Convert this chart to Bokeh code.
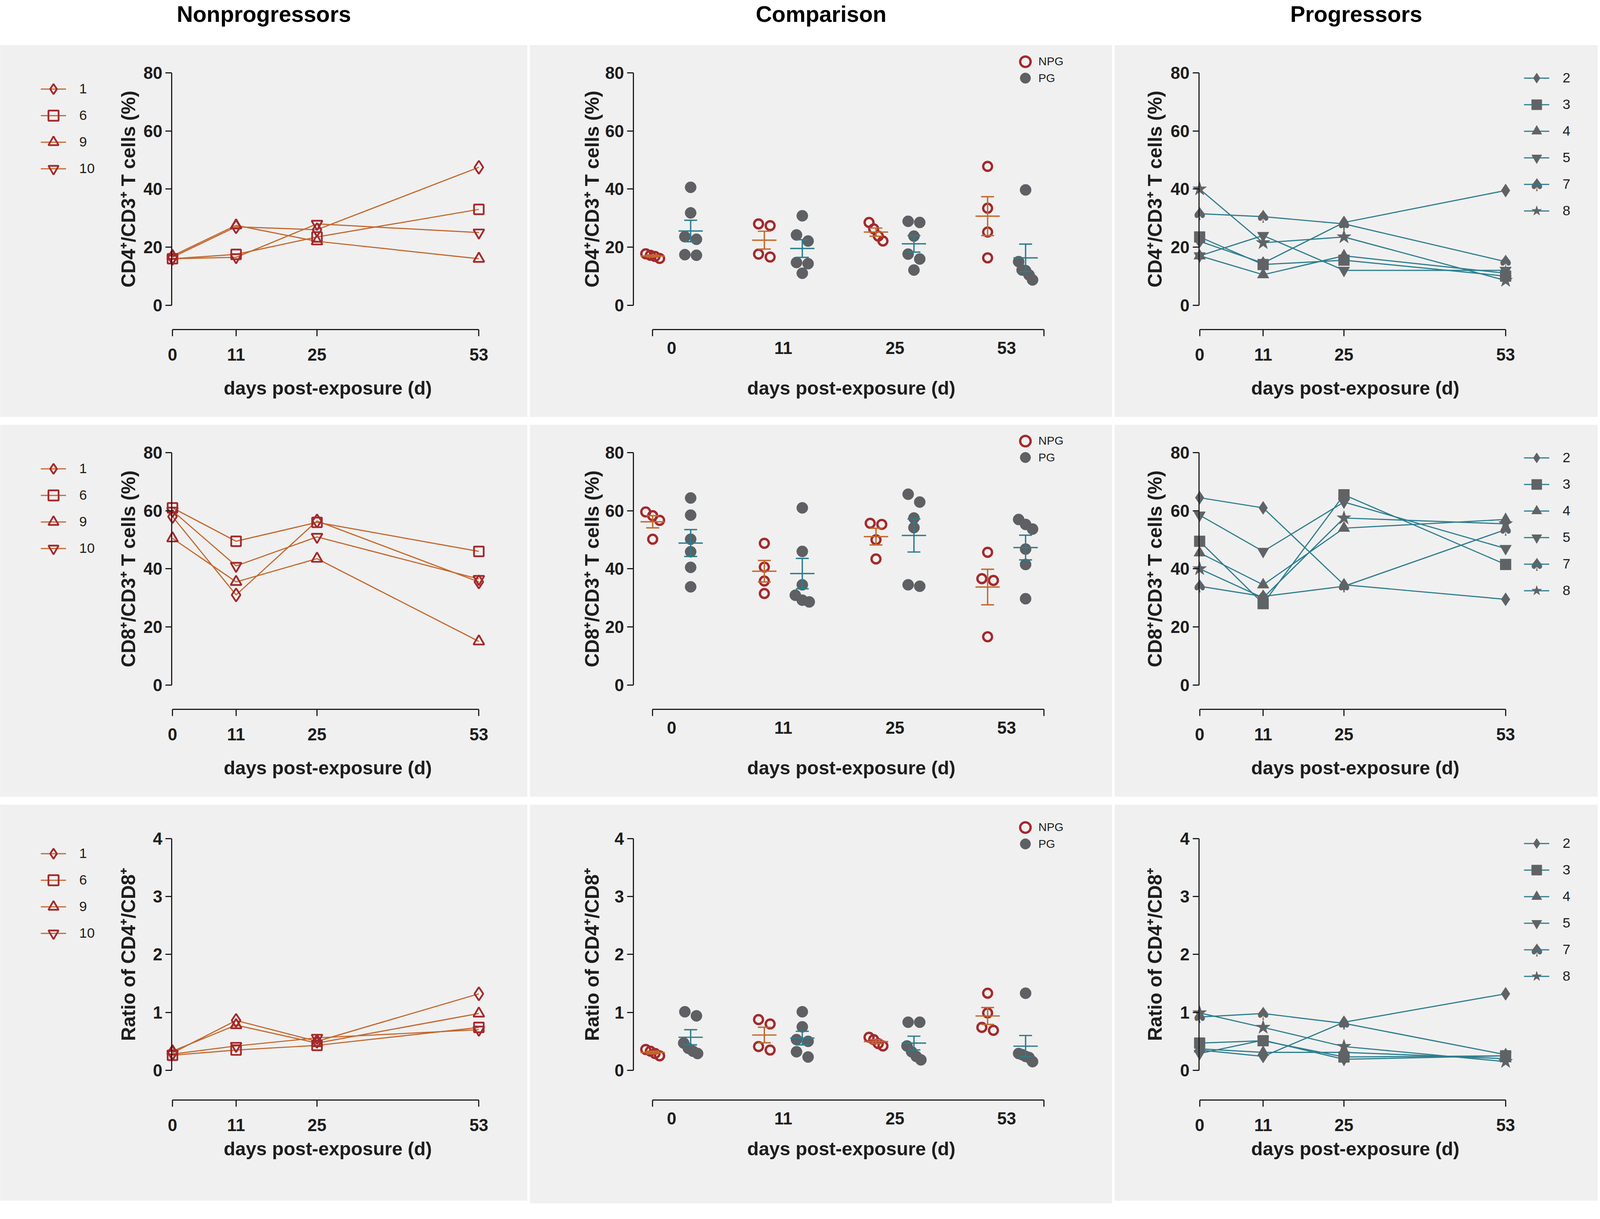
import math
import numpy as np
from bokeh.plotting import figure
from bokeh.layouts import row, column
from bokeh.models import Range1d, FixedTicker, Legend, LegendItem
from bokeh.core.properties import value
from bokeh.embed import file_html
from bokeh.resources import INLINE

# ---------------------------------------------------------------- data
DAYS = [0, 11, 25, 53]
DAY_LABELS = ["0", "11", "25", "53"]
COLUMN_TITLES = ["Nonprogressors", "Comparison", "Progressors"]
X_TITLE = "days post-exposure (d)"
Y_TITLES = ["CD4\u207a/CD3\u207a T cells (%)", "CD8\u207a/CD3\u207a T cells (%)", "Ratio of CD4\u207a/CD8\u207a"]
Y_MAX = [80, 80, 4]
Y_TICKS = [[0, 20, 40, 60, 80], [0, 20, 40, 60, 80], [0, 1, 2, 3, 4]]
GROUPS = ["NPG", "PG"]

NP_IDS = ["1", "6", "9", "10"]
P_IDS = ["2", "3", "4", "5", "7", "8"]

# Nonprogressors, value per animal at DAYS
NP_CD4 = {"1": [16.5, 27.0, 26.0, 47.5], "6": [16.0, 17.5, 23.5, 33.0],
          "9": [17.0, 27.5, 22.0, 16.0], "10": [16.0, 16.5, 28.0, 25.0]}
NP_CD8 = {"1": [58.0, 31.0, 56.5, 35.5], "6": [61.0, 49.5, 56.0, 46.0],
          "9": [50.5, 35.5, 43.5, 15.0], "10": [60.0, 41.0, 51.0, 36.5]}
NP_RATIO = {"1": [0.30, 0.86, 0.50, 1.32], "6": [0.26, 0.35, 0.43, 0.74],
            "9": [0.33, 0.78, 0.47, 0.98], "10": [0.28, 0.42, 0.56, 0.70]}

# Progressors, value per animal at DAYS
P_CD4 = {"2": [22.0, 14.5, 28.5, 39.5], "3": [23.5, 14.0, 15.5, 10.0], "4": [17.0, 10.5, 17.0, 11.0],
         "5": [17.0, 24.0, 12.0, 12.0], "7": [31.5, 30.5, 28.0, 15.0], "8": [40.0, 21.5, 23.5, 8.5]}
P_CD8 = {"2": [64.5, 61.0, 34.5, 29.5], "3": [49.5, 28.0, 65.5, 41.5], "4": [45.5, 34.5, 54.0, 57.0],
         "5": [58.5, 46.0, 63.0, 47.0], "7": [34.0, 30.5, 34.0, 53.5], "8": [40.0, 30.0, 57.5, 55.5]}
P_RATIO = {"2": [0.35, 0.24, 0.83, 1.32], "3": [0.47, 0.51, 0.23, 0.25], "4": [0.37, 0.31, 0.31, 0.20],
           "5": [0.29, 0.52, 0.19, 0.25], "7": [0.92, 0.98, 0.81, 0.27], "8": [0.99, 0.74, 0.41, 0.15]}

# Comparison panels: individual values per day (one inner list per day)
CMP_CD4_NPG = [[17.7, 16.1, 16.8, 17.2], [28.0, 27.4, 16.6, 17.6],
               [28.5, 26.3, 23.8, 22.1], [47.8, 33.4, 25.2, 16.3]]
CMP_CD4_PG = [[40.6, 31.8, 23.6, 22.7, 17.2, 17.4], [30.8, 24.2, 22.1, 14.7, 14.3, 11.0],
              [28.9, 28.5, 23.8, 17.6, 15.9, 12.1], [39.7, 15.0, 11.9, 12.1, 10.4, 8.7]]
CMP_CD8_NPG = [[59.6, 58.3, 56.7, 50.2], [48.8, 40.6, 35.8, 31.5],
               [55.7, 55.3, 50.0, 43.4], [45.7, 36.6, 36.0, 16.6]]
CMP_CD8_PG = [[64.4, 58.5, 50.2, 45.9, 40.5, 33.8], [61.0, 46.0, 34.5, 30.9, 29.2, 28.6],
              [65.7, 63.0, 57.5, 54.2, 34.5, 34.0], [57.0, 55.3, 53.7, 46.8, 41.5, 29.7]]
CMP_RATIO_NPG = [[0.33, 0.25, 0.29, 0.36], [0.875, 0.80, 0.41, 0.35],
                 [0.53, 0.57, 0.46, 0.42], [1.33, 0.99, 0.74, 0.69]]
CMP_RATIO_PG = [[1.01, 0.94, 0.47, 0.38, 0.33, 0.29], [1.01, 0.75, 0.53, 0.50, 0.32, 0.23],
                [0.83, 0.83, 0.42, 0.32, 0.24, 0.18], [1.33, 0.29, 0.27, 0.22, 0.24, 0.15]]

# ---------------------------------------------------------------- style
FONT = "Liberation Sans"
INK = "#1d1d1d"
BG = "#f0f0f0"
NP_LINE = "#c4672d"
NP_MARK = "#a3292c"
P_LINE = "#2c7d8e"
P_MARK = "#606366"
PG_DOT = "#5e6063"
NPG_BAR = "#c4672d"
PG_BAR = "#2c7d8e"
SPADE = "\u2660"

NP_MARKERS = ["diamond", "square", "triangle", "inverted_triangle"]
P_MARKERS = ["diamond", "square", "triangle", "inverted_triangle", "spade", "star"]
OPEN_SIZE = {"diamond": 34, "square": 25, "triangle": 28, "inverted_triangle": 28}
FILL_SIZE = {"diamond": 34, "square": 28, "triangle": 30, "inverted_triangle": 30, "star": 38}

# ---------------------------------------------------------------- geometry
# all geometry below is written in reference pixels and scaled by K when drawn
K = 0.989
COL_W = [1365, 1508, 1251]
COL_GAP = 6
ROW_GAP = 20
TITLE_H = 96
TITLE_MID = 36
ROW_H = [963, 963, 1025]
MID_LAST_H = 1032
ROWS = [
    dict(top=72.0, zero=673.0, xaxis=736.0, xtitle=887.0, np_leg=80.0, p_leg=52.0, c_leg=43.0),
    dict(top=72.0, zero=673.0, xaxis=736.0, xtitle=887.0, np_leg=80.0, p_leg=52.0, c_leg=42.0),
    dict(top=87.5, zero=687.5, xaxis=764.0, xtitle=890.0, np_leg=93.0, p_leg=67.0, c_leg=59.0),
]
COL_NP = dict(yaxis=444.0, x0=446.0, x1=1239.0, ytitle=332.0, xtitle=848.0, leg=105.0)
COL_CMP = dict(yaxis=268.0, x0=367.0, x1=1234.0, br0=317.0, br1=1331.0, ytitle=161.0, xtitle=832.0, leg=1283.0)
COL_P = dict(yaxis=218.0, x0=220.0, x1=1012.0, ytitle=104.0, xtitle=623.0, leg=1060.0)
LEG_ITEM = 68
LEG_PITCH = 69


def k(v):
    return v * K


def fs(v):
    return "%.2fpx" % (v * K)


def lin(pa, va, pb, vb):
    s = (vb - va) / (pb - pa)
    return lambda q: va + (q - pa) * s


def base(W, H, fx, fy):
    p = figure(width=W, height=H, x_range=Range1d(fx(0), fx(W)), y_range=Range1d(fy(H), fy(0)),
               output_backend="svg", toolbar_location=None, tools="", min_border=0)
    p.title.visible = False
    p.background_fill_color = BG
    p.border_fill_color = BG
    p.outline_line_color = None
    p.xgrid.visible = False
    p.ygrid.visible = False
    return p


def style_axis(ax):
    ax.axis_line_width = k(3)
    ax.axis_line_color = INK
    ax.major_tick_line_width = k(3)
    ax.major_tick_line_color = INK
    ax.major_tick_in = 0
    ax.minor_tick_line_color = None
    ax.major_label_text_font = FONT
    ax.major_label_text_font_size = fs(44)
    ax.major_label_text_font_style = "bold"
    ax.major_label_text_color = INK


def axes_and_titles(p, r, col, fx, fy):
    g = ROWS[r]
    ya = p.yaxis[0]
    style_axis(ya)
    ya.fixed_location = fx(k(col["yaxis"]))
    ya.bounds = (0, Y_MAX[r])
    ya.ticker = FixedTicker(ticks=Y_TICKS[r])
    ya.major_tick_out = round(k(16))
    ya.major_label_standoff = round(k(8))
    p.text(x=[fx(k(col["ytitle"]))], y=[fy(k((g["top"] + g["zero"]) / 2))], text=[Y_TITLES[r]],
           angle=math.pi / 2, text_align="center", text_baseline="middle",
           text_font=value(FONT), text_font_size=fs(50), text_font_style="bold", text_color=INK)
    p.text(x=[fx(k(col["xtitle"]))], y=[fy(k(g["xtitle"]))], text=[X_TITLE],
           text_align="center", text_baseline="middle",
           text_font=value(FONT), text_font_size=fs(49), text_font_style="bold", text_color=INK)
    xa = p.xaxis[0]
    style_axis(xa)
    xa.fixed_location = fy(k(g["xaxis"]))
    return xa


def legend_box(items, x, top, n, H, standoff, size, gw):
    gh = round(k(LEG_ITEM))
    sp = round(k(LEG_PITCH)) - gh
    height = n * gh + (n - 1) * sp
    return Legend(items=items, location=(k(x), H - (k(top) + height)),
                  orientation="vertical", glyph_width=round(k(gw)), glyph_height=gh, spacing=sp,
                  padding=0, margin=0, label_standoff=round(k(standoff)), label_text_font=FONT,
                  label_text_font_size=fs(size), label_text_color=INK, label_height=gh,
                  border_line_color=None, background_fill_alpha=0)


def line_panel(r, W, H, col, data, ids, markers, line_color, mark_color, filled):
    g = ROWS[r]
    fx = lin(k(col["x0"]), DAYS[0], k(col["x1"]), DAYS[-1])
    fy = lin(k(g["zero"]), 0, k(g["top"]), Y_MAX[r])
    p = base(W, H, fx, fy)
    xa = axes_and_titles(p, r, col, fx, fy)
    xa.bounds = (DAYS[0], DAYS[-1])
    xa.ticker = FixedTicker(ticks=DAYS)
    xa.major_tick_out = round(k(17))
    xa.major_label_standoff = round(k(32))

    lines = [p.line(DAYS, data[sid], line_color=line_color, line_width=k(3)) for sid in ids]
    marks = []
    for sid, mk in zip(ids, markers):
        if mk == "spade":
            p.text(x=DAYS, y=data[sid], text=[SPADE] * len(DAYS), text_align="center",
                   text_baseline="middle", text_font=value("DejaVu Sans"), text_font_size=fs(46),
                   text_color=mark_color)
            marks.append(None)
        elif filled:
            marks.append(p.scatter(DAYS, data[sid], marker=mk, size=k(FILL_SIZE[mk]),
                                   fill_color=mark_color, line_color=mark_color, line_width=1))
        else:
            marks.append(p.scatter(DAYS, data[sid], marker=mk, size=k(OPEN_SIZE[mk]),
                                   fill_color=None, line_color=mark_color, line_width=k(4.5)))

    n = len(ids)
    top = g["p_leg"] if filled else g["np_leg"]
    items = [LegendItem(label=sid, renderers=[lr] + ([mr] if mr is not None else []))
             for sid, lr, mr in zip(ids, lines, marks)]
    p.add_layout(legend_box(items, col["leg"], top, n, H, 34, 36, 66))
    for i, mk in enumerate(markers):
        if mk == "spade":
            p.text(x=[fx(k(col["leg"] + 33))], y=[fy(k(top + i * LEG_PITCH + LEG_ITEM / 2))],
                   text=[SPADE], text_align="center", text_baseline="middle",
                   text_font=value("DejaVu Sans"), text_font_size=fs(46), text_color=mark_color)
    return p


def swarm(vals, px_per_val, diam=22.0):
    n = len(vals)
    order = sorted(range(n), key=lambda i: -vals[i])
    offs = [0.0] * n

    def flush(c):
        m = len(c)
        if m == 1:
            return
        spread = min(30.0 * (m - 1), 36.0)
        for j, i in enumerate(c):
            offs[i] = -spread / 2 + spread * j / (m - 1)

    cl = [order[0]]
    for i in order[1:]:
        if (vals[cl[-1]] - vals[i]) * px_per_val < diam:
            cl.append(i)
        else:
            flush(cl)
            cl = [i]
    flush(cl)
    return offs


def cmp_panel(r, W, H, npg, pg):
    g = ROWS[r]
    col = COL_CMP
    nd = len(DAYS)
    fx = lin(k(col["x0"]), 0, k(col["x1"]), nd - 1)
    fy = lin(k(g["zero"]), 0, k(g["top"]), Y_MAX[r])
    pxx = (col["x1"] - col["x0"]) / (nd - 1)      # reference px per category
    pxy = (g["zero"] - g["top"]) / Y_MAX[r]       # reference px per value unit
    p = base(W, H, fx, fy)
    xa = axes_and_titles(p, r, col, fx, fy)
    b0, b1 = fx(k(col["br0"])), fx(k(col["br1"]))
    xa.bounds = (b0, b1)
    xa.ticker = FixedTicker(ticks=list(range(nd)), minor_ticks=[b0, b1])
    xa.major_tick_out = 0
    xa.minor_tick_out = round(k(17))
    xa.minor_tick_in = 0
    xa.minor_tick_line_color = INK
    xa.minor_tick_line_width = k(3)
    xa.major_label_overrides = {i: lab for i, lab in enumerate(DAY_LABELS)}
    xa.major_label_standoff = round(k(15))

    rends = []
    for vals_by_day, off, kind in [(npg, -0.17, "npg"), (pg, 0.17, "pg")]:
        xs, ys = [], []
        for d, vals in enumerate(vals_by_day):
            o = swarm(vals, pxy)
            xs += [d + off + oo / pxx for oo in o]
            ys += list(vals)
        if kind == "npg":
            rends.append(p.scatter(xs, ys, marker="circle", size=k(23), fill_color=None,
                                   line_color=NP_MARK, line_width=k(6)))
        else:
            rends.append(p.scatter(xs, ys, marker="circle", size=k(29), fill_color=PG_DOT,
                                   line_color=PG_DOT, line_width=1))

    for vals_by_day, off, colr in [(npg, -0.17, NPG_BAR), (pg, 0.17, PG_BAR)]:
        x0, x1, y0, y1 = [], [], [], []
        for d, vals in enumerate(vals_by_day):
            v = np.asarray(vals, dtype=float)
            m = float(v.mean())
            s = float(v.std(ddof=1) / math.sqrt(len(v)))
            c = d + off
            hw, cw = 0.109, 0.058
            x0 += [c - hw, c, c - cw, c - cw]
            x1 += [c + hw, c, c + cw, c + cw]
            y0 += [m, m - s, m + s, m - s]
            y1 += [m, m + s, m + s, m - s]
        p.segment(x0=x0, y0=y0, x1=x1, y1=y1, line_color=colr, line_width=k(3.5))

    for j, (lab, rr) in enumerate(zip(GROUPS, rends)):
        cy = g["c_leg"] + j * 43
        item = [LegendItem(label=lab, renderers=[rr])]
        p.add_layout(legend_box(item, col["leg"] - LEG_ITEM / 2, cy - LEG_ITEM / 2, 1, H, 0, 30, LEG_ITEM))
    return p


# ---------------------------------------------------------------- build
NP_DATA = [NP_CD4, NP_CD8, NP_RATIO]
P_DATA = [P_CD4, P_CD8, P_RATIO]
CMP_DATA = [(CMP_CD4_NPG, CMP_CD4_PG), (CMP_CD8_NPG, CMP_CD8_PG), (CMP_RATIO_NPG, CMP_RATIO_PG)]

WPX = [round(k(w)) for w in COL_W]
GAP_PX = round(k(COL_GAP))
TOTAL_W = sum(WPX) + 2 * GAP_PX
TITLE_PX = round(k(TITLE_H))
tfig = figure(width=TOTAL_W, height=TITLE_PX, x_range=Range1d(0, TOTAL_W), y_range=Range1d(TITLE_PX, 0),
              output_backend="svg", toolbar_location=None, tools="", min_border=0)
tfig.title.visible = False
tfig.xaxis.visible = False
tfig.yaxis.visible = False
tfig.xgrid.visible = False
tfig.ygrid.visible = False
tfig.outline_line_color = None
tfig.background_fill_color = "white"
tfig.border_fill_color = "white"
centers = [WPX[0] / 2, WPX[0] + GAP_PX + WPX[1] / 2, WPX[0] + WPX[1] + 2 * GAP_PX + WPX[2] / 2]
tfig.text(x=centers, y=[k(TITLE_MID)] * 3, text=COLUMN_TITLES, text_align="center", text_baseline="middle",
          text_font=value(FONT), text_font_size=fs(58), text_font_style="bold", text_color="#000000")

rows_ = []
for r in range(3):
    H = round(k(ROW_H[r]))
    HM = round(k(MID_LAST_H)) if r == 2 else H
    p1 = line_panel(r, WPX[0], H, COL_NP, NP_DATA[r], NP_IDS, NP_MARKERS, NP_LINE, NP_MARK, False)
    p2 = cmp_panel(r, WPX[1], HM, *CMP_DATA[r])
    p3 = line_panel(r, WPX[2], H, COL_P, P_DATA[r], P_IDS, P_MARKERS, P_LINE, P_MARK, True)
    rows_.append(row(p1, p2, p3, spacing=GAP_PX))

layout = column(tfig, *rows_, spacing=round(k(ROW_GAP)))
open("out.html", "w").write(file_html(layout, INLINE))
